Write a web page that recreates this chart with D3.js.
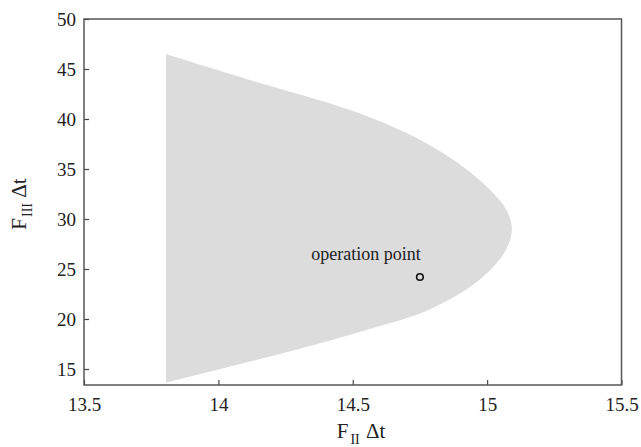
<!DOCTYPE html>
<html><head><meta charset="utf-8">
<script src="https://cdn.jsdelivr.net/npm/d3@7"></script>
<style>body{margin:0;background:#fff}svg{display:block}text{font-family:"Liberation Serif","Times New Roman",serif;fill:#222}</style>
</head><body>
<svg id="c" width="641" height="447"></svg>
<script>
// Feasible region boundary (F_II Δt, F_III Δt), clockwise from top-left
const upperX = [13.805, 14.118, 14.49, 14.70, 14.87, 15.00, 15.07, 15.092];
const upperY = [46.5,   43.9,   40.9,  38.6,  36.0,  33.2,  31.0,  29.1];
const lowerX = [15.07, 14.975, 14.79, 14.55, 14.30, 14.118, 13.805];
const lowerY = [26.9,  24.0,   21.0,  18.9,  17.0,  15.75,  13.63];
const opX = [14.75], opY = [24.2];
const opLabel = "operation point";
const xTicks = [13.5, 14, 14.5, 15, 15.5];
const yTicks = [15, 20, 25, 30, 35, 40, 45, 50];

const svg = d3.select("#c");
const L = 84, R = 621.5, T = 19, B = 385;
const x = d3.scaleLinear().domain([13.5, 15.5]).range([L, R]);
const y = d3.scaleLinear().domain([50, 13.4]).range([T, B]);

const pts = upperX.map((v,i)=>[v,upperY[i]]).concat(lowerX.map((v,i)=>[v,lowerY[i]]));
const line = d3.line().x(d=>x(d[0])).y(d=>y(d[1])).curve(d3.curveCatmullRom.alpha(0.5));
const path = line(pts) + "Z";
svg.append("path").attr("d", path).attr("fill", "#dcdcdc").attr("stroke","none");

// operation point
svg.selectAll("circle.op").data(opX).enter().append("circle")
  .attr("cx", d=>x(d)).attr("cy", (d,i)=>y(opY[i])).attr("r", 3.3)
  .attr("fill","none").attr("stroke","#111").attr("stroke-width",1.6);
svg.append("text").attr("x", x(opX[0]) - 54).attr("y", y(opY[0]) - 17)
  .attr("text-anchor","middle").attr("font-size", 18).text(opLabel);

// axes
const ax = svg.append("g").attr("transform",`translate(0,${B})`)
  .call(d3.axisBottom(x).tickValues(xTicks).tickSizeInner(-5).tickSizeOuter(0).tickPadding(13).tickFormat(d3.format("")));
const ay = svg.append("g").attr("transform",`translate(${L},0)`)
  .call(d3.axisLeft(y).tickValues(yTicks).tickSizeInner(-5).tickSizeOuter(0).tickPadding(8).tickFormat(d3.format("")));
[ax, ay].forEach(g=>{
  g.attr("font-family", null);
  g.select(".domain").remove();
  g.selectAll(".tick line").attr("stroke","#444").attr("stroke-width",1.2);
  g.selectAll(".tick text").attr("font-size",19).attr("fill","#1a1a1a")
   .style("font-family",'"Liberation Serif",serif');
});
svg.append("rect").attr("x",L).attr("y",T).attr("width",R-L).attr("height",B-T)
  .attr("fill","none").attr("stroke","#555").attr("stroke-width",1.5);

// axis labels
const xl = svg.append("text").attr("x", 361).attr("y", 438).attr("text-anchor","middle").attr("font-size",21);
xl.append("tspan").text("F");
xl.append("tspan").attr("dy",6).attr("dx",2).attr("font-size",14).text("II");
xl.append("tspan").attr("dy",-6).attr("dx",1).text(" Δt");
const yl = svg.append("text").attr("transform","translate(26,204) rotate(-90)").attr("text-anchor","middle").attr("font-size",21);
yl.append("tspan").text("F");
yl.append("tspan").attr("dy",6).attr("dx",1).attr("font-size",14).text("III");
yl.append("tspan").attr("dy",-6).text(" Δt");
</script>
</body></html>
